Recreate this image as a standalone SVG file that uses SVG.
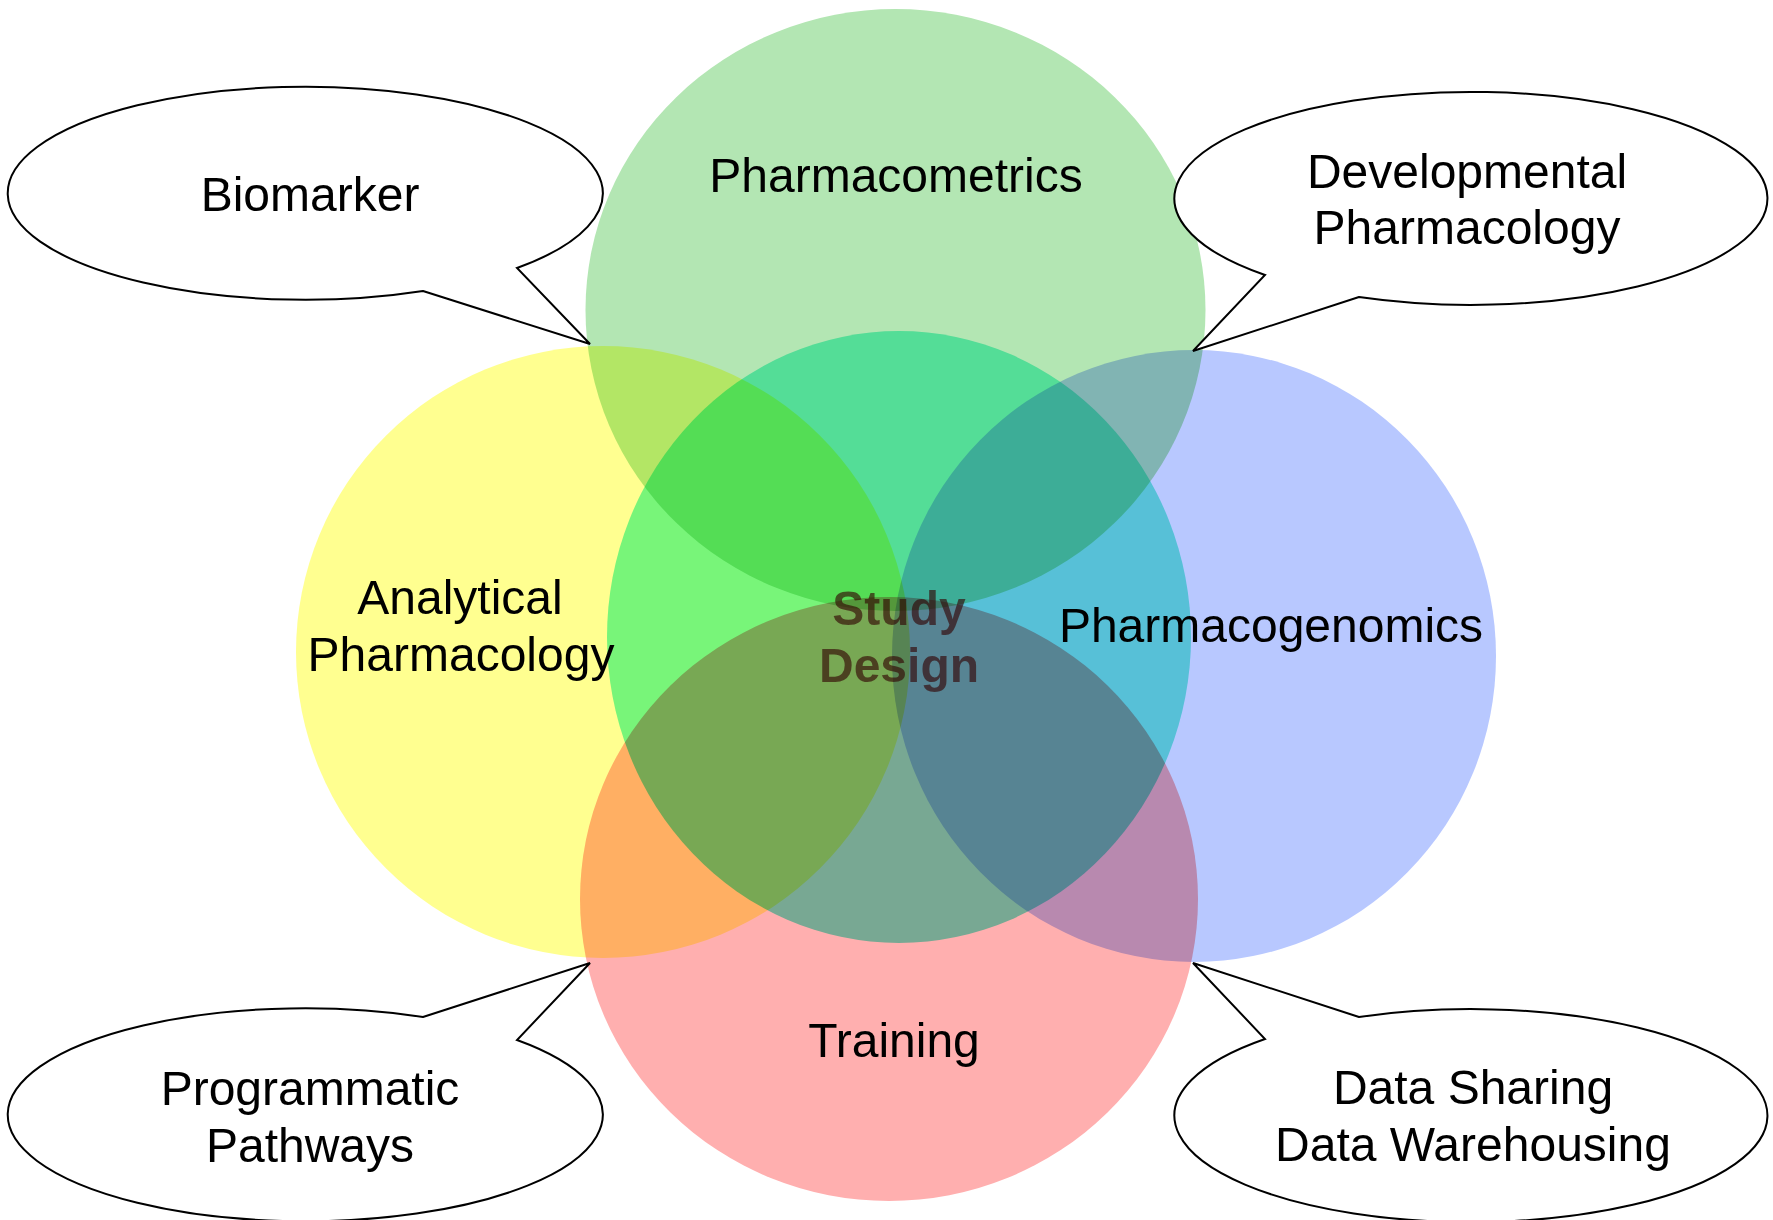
<svg xmlns="http://www.w3.org/2000/svg" width="1773" height="1220" viewBox="0 0 1773 1220">
<style>
  .lbl { font-family: "Liberation Sans", Arial, sans-serif; font-size: 48px; fill: #000; text-anchor: middle; }
  .core { font-family: "Liberation Sans", Arial, sans-serif; font-size: 48px; font-weight: bold; fill: #300000; fill-opacity: 0.62; text-anchor: middle; }
  .set { mix-blend-mode: multiply; }
  .callout { fill: #fff; stroke: #000; stroke-width: 2; stroke-linejoin: miter; }
</style>
<rect width="1773" height="1220" fill="#fff"/>
<g id="pharmacometrics">
  <ellipse class="set" cx="895.5" cy="310" rx="310" ry="301" fill="#b3e6b3"/>
  <text class="lbl" x="896" y="192">Pharmacometrics</text>
</g>
<g id="analytical-pharmacology">
  <ellipse class="set" cx="603" cy="652" rx="307" ry="306" fill="#ffff90"/>
  <text class="lbl" x="460" y="614">Analytical</text>
  <text class="lbl" x="461" y="671">Pharmacology</text>
</g>
<g id="pharmacogenomics">
  <ellipse class="set" cx="1194" cy="656" rx="302" ry="306" fill="#b8c8ff"/>
  <text class="lbl" x="1271" y="642">Pharmacogenomics</text>
</g>
<g id="training">
  <ellipse class="set" cx="889" cy="899" rx="309" ry="302" fill="#ffafaf"/>
  <text class="lbl" x="894" y="1057">Training</text>
</g>
<g id="study-design">
  <ellipse class="set" cx="899" cy="637" rx="292" ry="306" fill="#78f5d7"/>
  <text class="core" x="899" y="625">Study</text>
  <text class="core" x="899" y="682">Design</text>
</g>
<g id="biomarker">
  <path class="callout" d="M423,291 L590,344 L517,268 A297.5,106.5 0 1 0 423,291 Z"/>
  <text class="lbl" x="310" y="211">Biomarker</text>
</g>
<g id="developmental-pharmacology">
  <path class="callout" d="M1359,297 L1193,351 L1265,275 A296.5,106.5 0 1 1 1359,297 Z"/>
  <text class="lbl" x="1467" y="188">Developmental</text>
  <text class="lbl" x="1467" y="244">Pharmacology</text>
</g>
<g id="programmatic-pathways">
  <path class="callout" d="M423,1017 L590,963 L517,1040 A297.5,106.5 0 1 1 423,1017 Z"/>
  <text class="lbl" x="310" y="1105">Programmatic</text>
  <text class="lbl" x="310" y="1162">Pathways</text>
</g>
<g id="data-sharing">
  <path class="callout" d="M1359,1017 L1193,963 L1265,1039 A296.5,106.5 0 1 0 1359,1017 Z"/>
  <text class="lbl" x="1473" y="1104">Data Sharing</text>
  <text class="lbl" x="1473" y="1161">Data Warehousing</text>
</g>
<g id="connectors"/>
</svg>
